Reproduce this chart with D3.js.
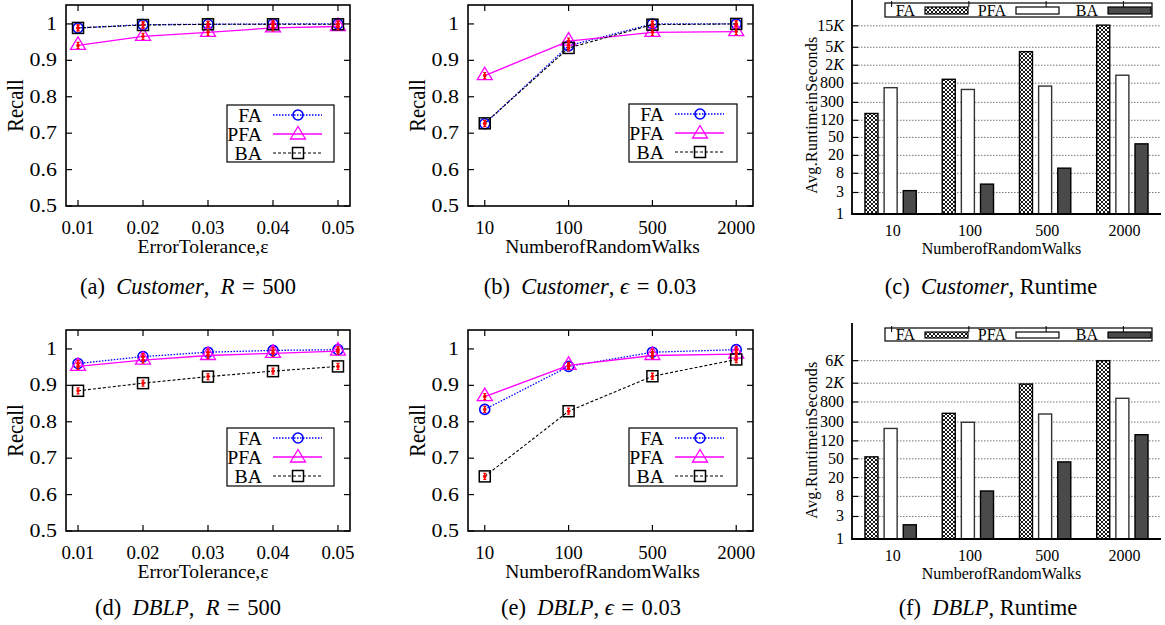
<!DOCTYPE html>
<html>
<head>
<meta charset="utf-8">
<script src="https://cdn.jsdelivr.net/npm/d3@7"></script>
<style>
  body { margin: 0; background: #fff; }
  text { font-family: "Liberation Serif", "Times New Roman", serif; fill: #000; }
</style>
</head>
<body>
<script>
const width = 1165;
const height = 625;

const series = ["FA", "PFA", "BA"];
const epsilons = [0.01, 0.02, 0.03, 0.04, 0.05];
const walks = ["10", "100", "500", "2000"];
const recallTicks = [0.5, 0.6, 0.7, 0.8, 0.9, 1];

// Customer, R = 500
const custEpsFA = [0.989, 0.998, 0.999, 1.0, 1.0];
const custEpsPFA = [0.941, 0.966, 0.977, 0.989, 0.993];
const custEpsBA = [0.989, 0.997, 0.999, 0.999, 0.999];
// Customer, eps = 0.03
const custWalkFA = [0.726, 0.940, 1.0, 1.0];
const custWalkPFA = [0.858, 0.953, 0.977, 0.979];
const custWalkBA = [0.727, 0.934, 0.998, 1.0];
// DBLP, R = 500
const dblpEpsFA = [0.960, 0.979, 0.991, 0.996, 0.998];
const dblpEpsPFA = [0.952, 0.969, 0.982, 0.988, 0.994];
const dblpEpsBA = [0.885, 0.906, 0.924, 0.939, 0.952];
// DBLP, eps = 0.03
const dblpWalkFA = [0.834, 0.952, 0.991, 0.998];
const dblpWalkPFA = [0.869, 0.955, 0.982, 0.986];
const dblpWalkBA = [0.650, 0.829, 0.925, 0.971];

// runtime in seconds
const custTimeFA = [170, 975, 4000, 15500];
const custTimePFA = [635, 580, 690, 1200];
const custTimeBA = [3.3, 4.6, 10.4, 36];
const dblpTimeFA = [55, 460, 1920, 6000];
const dblpTimePFA = [220, 297, 445, 957];
const dblpTimeBA = [2, 10.4, 43, 162];
const custTimeTicks = [1, 3, 8, 20, 50, 120, 300, 800, 2000, 5000, 15000];
const dblpTimeTicks = [1, 3, 8, 20, 50, 120, 300, 800, 2000, 6000];

const lineStyle = {
  FA: { color: "#0000ff", dash: "1.5,1.5", width: 1.3 },
  PFA: { color: "#ff00ff", dash: null, width: 1.3 },
  BA: { color: "#000000", dash: "3,2", width: 1.1 }
};

const svg = d3.select("body").append("svg")
  .attr("width", width)
  .attr("height", height)
  .attr("viewBox", `0 0 ${width} ${height}`);

// crosshatch for FA bars
const pat = svg.append("defs").append("pattern")
  .attr("id", "hatch")
  .attr("patternUnits", "userSpaceOnUse")
  .attr("width", 4)
  .attr("height", 4);
pat.append("rect").attr("width", 4).attr("height", 4).attr("fill", "#fff");
pat.append("path")
  .attr("d", "M0,0L4,4M4,0L0,4M-1,3L1,5M3,-1L5,1M-1,1L1,-1M3,5L5,3")
  .attr("stroke", "#000")
  .attr("stroke-width", 0.9);

// text that is a little wider than the font, like the scaled figure
function wideText(g, x, y, size, str, anchor, sx) {
  return g.append("text")
    .attr("transform", `translate(${x},${y}) scale(${sx},1)`)
    .attr("text-anchor", anchor)
    .attr("font-size", size)
    .text(str);
}

function marker(g, name, x, y) {
  const c = lineStyle[name].color;
  if (name === "FA") {
    g.append("circle").attr("cx", x).attr("cy", y).attr("r", 5)
      .attr("fill", "none").attr("stroke", c).attr("stroke-width", 1.6);
  } else if (name === "PFA") {
    g.append("path")
      .attr("d", `M${x},${y - 8.5}L${x - 7.5},${y + 4}L${x + 7.5},${y + 4}Z`)
      .attr("fill", "none").attr("stroke", c).attr("stroke-width", 1.3);
  } else {
    g.append("rect").attr("x", x - 5.5).attr("y", y - 5.5)
      .attr("width", 11).attr("height", 11)
      .attr("fill", "none").attr("stroke", c).attr("stroke-width", 1.5);
  }
}

function errMark(g, x, y) {
  g.append("path")
    .attr("d", `M${x},${y - 3}L${x},${y + 3}M${x - 1.5},${y - 3}L${x + 1.5},${y - 3}M${x - 1.5},${y + 3}L${x + 1.5},${y + 3}`)
    .attr("stroke", "#ff0000").attr("stroke-width", 1.3).attr("fill", "none");
  g.append("circle").attr("cx", x).attr("cy", y).attr("r", 1.8).attr("fill", "#ff0000");
}

function linePanel(p) {
  const g = svg.append("g");
  const y = d3.scaleLinear().domain([0.5, 1.052]).range([p.y1, p.y0]);
  let x, xs, labels;
  if (p.kind === "eps") {
    x = d3.scaleLinear().domain([0.00815, 0.05185]).range([p.x0, p.x1]);
    xs = epsilons.map((e) => x(e));
    labels = epsilons.map((e) => e.toFixed(2));
  } else {
    x = d3.scalePoint().domain(walks).range([p.x0, p.x1]).padding(0.2);
    xs = walks.map((w) => x(w));
    labels = walks;
  }

  // ticks inward on all four sides
  recallTicks.forEach((t) => {
    g.append("line").attr("x1", p.x0).attr("x2", p.x0 + 6).attr("y1", y(t)).attr("y2", y(t))
      .attr("stroke", "#000").attr("stroke-width", 1.2);
    g.append("line").attr("x1", p.x1).attr("x2", p.x1 - 6).attr("y1", y(t)).attr("y2", y(t))
      .attr("stroke", "#000").attr("stroke-width", 1.2);
    wideText(g, p.x0 - 9, y(t) + 6, 18, t === 1 ? "1" : t.toFixed(1), "end", 1.22);
  });
  xs.forEach((xv, i) => {
    g.append("line").attr("x1", xv).attr("x2", xv).attr("y1", p.y1).attr("y2", p.y1 - 6)
      .attr("stroke", "#000").attr("stroke-width", 1.2);
    g.append("line").attr("x1", xv).attr("x2", xv).attr("y1", p.y0).attr("y2", p.y0 + 6)
      .attr("stroke", "#000").attr("stroke-width", 1.2);
    wideText(g, xv, p.y1 + 28, 18, labels[i], "middle", 1.05);
  });

  g.append("rect").attr("x", p.x0).attr("y", p.y0)
    .attr("width", p.x1 - p.x0).attr("height", p.y1 - p.y0)
    .attr("fill", "none").attr("stroke", "#000").attr("stroke-width", 1.6);

  g.append("text").attr("x", (p.x0 + p.x1) / 2 + p.titleShift).attr("y", p.y1 + 47)
    .attr("text-anchor", "middle").attr("font-size", 19.5)
    .text(p.xTitle);
  g.append("text")
    .attr("transform", `translate(${p.x0 - 43},${(p.y0 + p.y1) / 2}) rotate(-90) scale(1.03,1.15)`)
    .attr("text-anchor", "middle").attr("font-size", 20)
    .text("Recall");

  const line = d3.line().x((d, i) => xs[i]).y((d) => y(d));
  series.forEach((s) => {
    const st = lineStyle[s];
    g.append("path").attr("d", line(p.data[s]))
      .attr("fill", "none").attr("stroke", st.color)
      .attr("stroke-width", st.width)
      .attr("stroke-dasharray", st.dash);
    p.data[s].forEach((v, i) => marker(g, s, xs[i], y(v)));
  });
  series.forEach((s) => {
    p.data[s].forEach((v, i) => errMark(g, xs[i], y(v)));
  });

  // legend
  const L = p.legend;
  g.append("rect").attr("x", L.x0).attr("y", L.y0)
    .attr("width", L.x1 - L.x0).attr("height", L.y1 - L.y0)
    .attr("fill", "#fff").attr("stroke", "#000").attr("stroke-width", 1.2);
  series.forEach((s, i) => {
    const ly = L.y0 + 10 + i * 19;
    const st = lineStyle[s];
    wideText(g, L.x0 + 35, ly + 7, 19, s, "end", 1.04);
    g.append("line").attr("x1", L.x0 + 46).attr("x2", L.x0 + 95)
      .attr("y1", ly).attr("y2", ly)
      .attr("stroke", st.color).attr("stroke-width", st.width)
      .attr("stroke-dasharray", st.dash);
    marker(g, s, L.x0 + 71, s === "PFA" ? ly + 1 : ly);
  });
}

function fmtTime(v) {
  return v >= 1000 ? [String(v / 1000), "K"] : [String(v), ""];
}

function barPanel(p) {
  const g = svg.append("g");
  const y = d3.scaleLog().domain([1, p.yMax]).range([p.y1, p.y0]);
  const x = d3.scaleBand().domain(walks).range([p.x0, p.x1]);
  const inner = d3.scaleBand().domain(series).range([-25.65, 25.65]).paddingInner(0.32);

  p.ticks.forEach((t) => {
    g.append("line").attr("x1", p.x0 + 6).attr("x2", p.x1).attr("y1", y(t)).attr("y2", y(t))
      .attr("stroke", "#555").attr("stroke-width", 0.8).attr("stroke-dasharray", "1.5,1.5");
    g.append("line").attr("x1", p.x0).attr("x2", p.x0 + 6).attr("y1", y(t)).attr("y2", y(t))
      .attr("stroke", "#000").attr("stroke-width", 1.2);
    const [num, k] = fmtTime(t);
    const tx = g.append("text").attr("x", p.x0 - 8).attr("y", y(t) + 5)
      .attr("text-anchor", "end").attr("font-size", 16);
    tx.append("tspan").text(num);
    if (k) tx.append("tspan").attr("font-style", "italic").text(k);
  });

  const fills = { FA: "url(#hatch)", PFA: "#fff", BA: "#4a4a4a" };
  walks.forEach((w, i) => {
    series.forEach((s) => {
      const v = p.data[s][i];
      g.append("rect")
        .attr("x", x(w) + x.bandwidth() / 2 + inner(s))
        .attr("y", y(v))
        .attr("width", inner.bandwidth())
        .attr("height", y(1) - y(v))
        .attr("fill", fills[s])
        .attr("stroke", s === "PFA" ? "#333" : "#000")
        .attr("stroke-width", 1.4);
    });
    g.append("text").attr("x", x(w) + x.bandwidth() / 2 + 2).attr("y", p.y1 + 22)
      .attr("text-anchor", "middle").attr("font-size", 16).text(w);
  });

  g.append("path")
    .attr("d", `M${p.x0},${p.y0}L${p.x0},${p.y1}L${p.x1},${p.y1}`)
    .attr("fill", "none").attr("stroke", "#000").attr("stroke-width", 1.8);

  // legend across the top
  const L = p.legend;
  g.append("rect").attr("x", L.x0).attr("y", L.y0)
    .attr("width", L.x1 - L.x0).attr("height", L.y1 - L.y0)
    .attr("fill", "#fff").attr("stroke", "#000").attr("stroke-width", 1.2);
  const slots = [L.x0 + 30, L.x0 + 121, L.x0 + 213];
  series.forEach((s, i) => {
    g.append("text").attr("x", slots[i]).attr("y", L.y1 - 1.5)
      .attr("text-anchor", "end").attr("font-size", 16).text(s);
    g.append("rect").attr("x", slots[i] + 10).attr("y", L.y0 + 4)
      .attr("width", 43).attr("height", L.y1 - L.y0 - 7)
      .attr("fill", fills[s]).attr("stroke", "#000").attr("stroke-width", 1.2);
  });
  walks.forEach((w) => {
    const xv = x(w) + x.bandwidth() / 2 + 1;
    g.append("line").attr("x1", xv).attr("x2", xv).attr("y1", L.y0 - 2).attr("y2", L.y0 + 4)
      .attr("stroke", "#000").attr("stroke-width", 1);
  });

  g.append("text").attr("x", (p.x0 + p.x1) / 2 - 5).attr("y", p.y1 + 40)
    .attr("text-anchor", "middle").attr("font-size", 16)
    .text("NumberofRandomWalks");
  g.append("text")
    .attr("transform", `translate(${p.x0 - 35},${p.y1 - 99}) rotate(-90)`)
    .attr("text-anchor", "middle").attr("font-size", 16)
    .attr("letter-spacing", 0.3)
    .text("Avg.RuntimeinSeconds");
}

function caption(cx, cy, parts) {
  const t = svg.append("text").attr("x", cx).attr("y", cy)
    .attr("text-anchor", "middle").attr("font-size", 22.5)
    .attr("xml:space", "preserve");
  parts.forEach(([str, it]) => {
    t.append("tspan").attr("font-style", it ? "italic" : "normal").text(str);
  });
}

linePanel({
  x0: 66, x1: 350, y0: 5, y1: 206, kind: "eps", titleShift: -5,
  data: { FA: custEpsFA, PFA: custEpsPFA, BA: custEpsBA },
  xTitle: "ErrorTolerance,ε",
  legend: { x0: 227, x1: 334, y0: 105, y1: 162 }
});
linePanel({
  x0: 468, x1: 753, y0: 5, y1: 206, kind: "walk", titleShift: -8,
  data: { FA: custWalkFA, PFA: custWalkPFA, BA: custWalkBA },
  xTitle: "NumberofRandomWalks",
  legend: { x0: 629, x1: 737, y0: 104, y1: 162 }
});
linePanel({
  x0: 66, x1: 350, y0: 330, y1: 531, kind: "eps", titleShift: -5,
  data: { FA: dblpEpsFA, PFA: dblpEpsPFA, BA: dblpEpsBA },
  xTitle: "ErrorTolerance,ε",
  legend: { x0: 227, x1: 334, y0: 428, y1: 486 }
});
linePanel({
  x0: 468, x1: 753, y0: 330, y1: 531, kind: "walk", titleShift: -8,
  data: { FA: dblpWalkFA, PFA: dblpWalkPFA, BA: dblpWalkBA },
  xTitle: "NumberofRandomWalks",
  legend: { x0: 629, x1: 737, y0: 428, y1: 486 }
});
barPanel({
  x0: 852, x1: 1161, y0: 0, y1: 214, yMax: 56000,
  ticks: custTimeTicks,
  data: { FA: custTimeFA, PFA: custTimePFA, BA: custTimeBA },
  legend: { x0: 885, x1: 1152, y0: 3, y1: 17 }
});
barPanel({
  x0: 852, x1: 1161, y0: 323, y1: 539, yMax: 37700,
  ticks: dblpTimeTicks,
  data: { FA: dblpTimeFA, PFA: dblpTimePFA, BA: dblpTimeBA },
  legend: { x0: 885, x1: 1152, y0: 328, y1: 341 }
});

const sp = "\u2002";
const th = "\u2004";
caption(188, 294, [["(a)" + sp, false], ["Customer", true], ["," + sp, false], ["R", true], [th + "=" + th + "500", false]]);
caption(590, 294, [["(b)" + sp, false], ["Customer", true], [", ", false], ["ϵ", true], [th + "=" + th + "0.03", false]]);
caption(991, 294, [["(c)" + sp, false], ["Customer", true], [", Runtime", false]]);
caption(188, 615, [["(d)" + sp, false], ["DBLP", true], ["," + sp, false], ["R", true], [th + "=" + th + "500", false]]);
caption(591, 615, [["(e)" + sp, false], ["DBLP", true], [", ", false], ["ϵ", true], [th + "=" + th + "0.03", false]]);
caption(988, 615, [["(f)" + sp, false], ["DBLP", true], [", Runtime", false]]);
</script>
</body>
</html>
